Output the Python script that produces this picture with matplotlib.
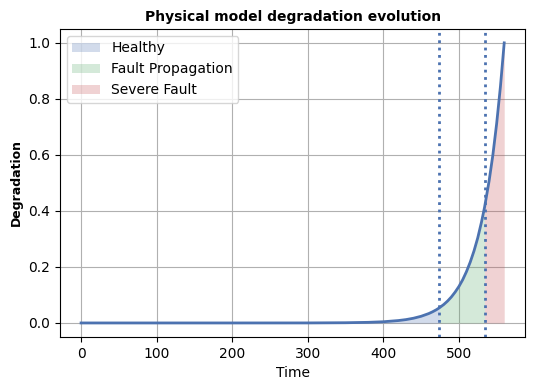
import matplotlib
matplotlib.use("Agg")
import matplotlib.pyplot as plt
import numpy as np

time = [0, 100, 200, 300, 350, 380, 400, 420, 430, 440, 450, 460, 465, 470, 474, 480, 485,
        490, 495, 500, 505, 510, 515, 520, 525, 530, 534, 540, 545, 550, 555, 560]
degradation = [0.0, 0.0, 0.0, 0.0001, 0.0008, 0.0022, 0.0043, 0.0086, 0.0120, 0.0169, 0.0238,
               0.0334, 0.0396, 0.0469, 0.0537, 0.0659, 0.0781, 0.0926, 0.110, 0.130, 0.154,
               0.183, 0.217, 0.257, 0.304, 0.361, 0.413, 0.507, 0.600, 0.712, 0.844, 1.0]
thresholds = [474, 534]
phases = ["Healthy", "Fault Propagation", "Severe Fault"]
phase_colors = ["#4C72B0", "#55A868", "#C44E52"]

t = np.array(time, dtype=float)
d = np.array(degradation)

fig = plt.figure(figsize=(5.35, 3.9), dpi=100)
ax = fig.add_axes([0.112, 0.136, 0.870, 0.790])

bounds = [t[0]] + thresholds + [t[-1]]
for i, name in enumerate(phases):
    m = (t >= bounds[i]) & (t <= bounds[i + 1])
    ax.fill_between(t[m], 0, d[m], color=phase_colors[i], alpha=0.25, linewidth=0, label=name)

ax.plot(t, d, color="#4C72B0", lw=2)
for th in thresholds:
    ax.axvline(th, color="#4C72B0", ls=":", lw=2)

ax.grid(True)
ax.set_axisbelow(True)
ax.set_title("Physical model degradation evolution", fontsize=10, fontweight="bold")
ax.set_xlabel("Time", fontsize=10)
ax.set_ylabel("Degradation", fontsize=9, fontweight="bold")
ax.legend(loc="upper left")

fig.savefig("out.png", dpi=100)
